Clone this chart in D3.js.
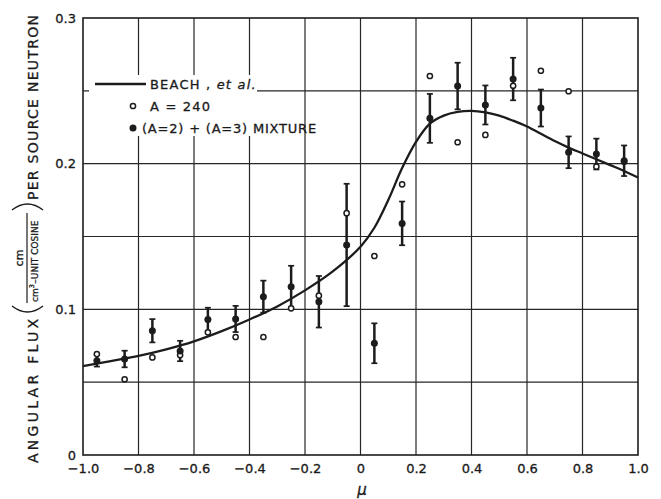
<!DOCTYPE html>
<html>
<head>
<meta charset="utf-8">
<script src="https://cdn.jsdelivr.net/npm/d3@7"></script>
<style>
  html, body { margin: 0; padding: 0; background: #fff; }
  svg { display: block; }
  text { font-family: "DejaVu Sans", sans-serif; fill: #1a1a1a; stroke: #1a1a1a; stroke-width: 0.3; }
</style>
</head>
<body>
<svg id="chart" width="661" height="499"></svg>
<script>
// ---- data ----
const mu = [-0.95, -0.85, -0.75, -0.65, -0.55, -0.45, -0.35, -0.25, -0.15, -0.05,
            0.05, 0.15, 0.25, 0.35, 0.45, 0.55, 0.65, 0.75, 0.85, 0.95];
const mixture = [0.0647, 0.0659, 0.0853, 0.0714, 0.0931, 0.0934, 0.1087, 0.1155, 0.1052, 0.1442,
                 0.0767, 0.1590, 0.2311, 0.2533, 0.2403, 0.2581, 0.2382, 0.2078, 0.2066, 0.2020];
const mixtureErr = [0.0040, 0.0057, 0.0080, 0.0070, 0.0080, 0.0090, 0.0110, 0.0144, 0.0177, 0.0420,
                    0.0137, 0.0150, 0.0168, 0.0160, 0.0134, 0.0146, 0.0127, 0.0109, 0.0106, 0.0105];
const a240 = [0.0693, 0.0520, 0.0670, 0.0686, 0.0842, 0.0810, 0.0810, 0.1007, 0.1094, 0.1660,
              0.1366, 0.1858, 0.2602, 0.2147, 0.2197, 0.2535, 0.2638, 0.2497, 0.1980, 0.2014];
const beachMu = [-1.0, -0.9, -0.8, -0.7, -0.6, -0.5, -0.4, -0.3, -0.2, -0.1, 0.0, 0.05, 0.1, 0.15,
                 0.2, 0.25, 0.3, 0.35, 0.4, 0.45, 0.5, 0.55, 0.6, 0.65, 0.7, 0.75, 0.8, 0.85, 0.9, 0.95, 1.0];
const beachFlux = [0.0610, 0.0645, 0.0680, 0.0725, 0.0780, 0.0850, 0.0930, 0.1020, 0.1130, 0.1260,
                   0.1430, 0.1560, 0.1750, 0.1970, 0.2150, 0.2275, 0.2330, 0.2355, 0.2362, 0.2352,
                   0.2330, 0.2295, 0.2255, 0.2205, 0.2155, 0.2110, 0.2070, 0.2030, 0.1990, 0.1950, 0.1905];
const xTicks = [-1.0, -0.8, -0.6, -0.4, -0.2, 0, 0.2, 0.4, 0.6, 0.8, 1.0];
const xTickLabels = ["\u22121.0", "\u22120.8", "\u22120.6", "\u22120.4", "\u22120.2", "0", "0.2", "0.4", "0.6", "0.8", "1.0"];
const yGrid = [0.05, 0.1, 0.15, 0.2, 0.25];
const yTicks = [0, 0.1, 0.2, 0.3];
const yTickLabels = ["0", "0.1", "0.2", "0.3"];
const legendLabels = ["BEACH", "A = 240", "(A=2) + (A=3) MIXTURE"];

// ---- layout ----
const L = 83, R = 638, T = 18, B = 455;
const x = d3.scaleLinear().domain([-1, 1]).range([L, R]);
const y = d3.scaleLinear().domain([0, 0.3]).range([B, T]);
const ink = "#1c1c1c";
const svg = d3.select("#chart");
svg.append("rect").attr("width", 661).attr("height", 499).attr("fill", "#fff");

// grid
const grid = svg.append("g").attr("stroke", "#262626").attr("stroke-width", 1.2);
grid.selectAll("line.v").data(xTicks.slice(1, -1)).join("line")
  .attr("x1", d => x(d)).attr("x2", d => x(d)).attr("y1", T).attr("y2", B);
grid.selectAll("line.h").data(yGrid).join("line")
  .attr("x1", L).attr("x2", R).attr("y1", d => y(d)).attr("y2", d => y(d));

// axes via d3 (labels only)
const xAxis = d3.axisBottom(x).tickValues(xTicks).tickSize(0).tickPadding(9)
  .tickFormat((d, i) => xTickLabels[i]);
const gx = svg.append("g").attr("transform", `translate(0,${B})`).call(xAxis);
gx.select(".domain").remove();
gx.selectAll("text").attr("font-size", 13).attr("font-family", "DejaVu Sans").attr("fill", ink);

const yAxis = d3.axisLeft(y).tickValues(yTicks).tickSize(0).tickPadding(7)
  .tickFormat((d, i) => yTickLabels[i]);
const gy = svg.append("g").attr("transform", `translate(${L},0)`).call(yAxis);
gy.select(".domain").remove();
gy.selectAll("text").attr("font-size", 13).attr("font-family", "DejaVu Sans").attr("fill", ink);

// frame
svg.append("rect").attr("x", L).attr("y", T).attr("width", R - L).attr("height", B - T)
  .attr("fill", "none").attr("stroke", ink).attr("stroke-width", 1.6);

// legend background (covers gridlines)
svg.append("rect").attr("x", 89).attr("y", 75).attr("width", 168).attr("height", 61).attr("fill", "#fff");

// Beach curve
const line = d3.line().x((d, i) => x(beachMu[i])).y(d => y(d)).curve(d3.curveCatmullRom.alpha(0.5));
svg.append("path").datum(beachFlux).attr("d", line)
  .attr("fill", "none").attr("stroke", ink).attr("stroke-width", 2.3);

// error bars
const eb = svg.append("g").attr("stroke", ink);
eb.selectAll("line.bar").data(mixture).join("line")
  .attr("x1", (d, i) => x(mu[i])).attr("x2", (d, i) => x(mu[i]))
  .attr("y1", (d, i) => y(d + mixtureErr[i])).attr("y2", (d, i) => y(d - mixtureErr[i]))
  .attr("stroke-width", 2.5);
eb.selectAll("line.capt").data(mixture).join("line")
  .attr("x1", (d, i) => x(mu[i]) - 3).attr("x2", (d, i) => x(mu[i]) + 3)
  .attr("y1", (d, i) => y(d + mixtureErr[i])).attr("y2", (d, i) => y(d + mixtureErr[i]))
  .attr("stroke-width", 1.7);
eb.selectAll("line.capb").data(mixture).join("line")
  .attr("x1", (d, i) => x(mu[i]) - 3).attr("x2", (d, i) => x(mu[i]) + 3)
  .attr("y1", (d, i) => y(d - mixtureErr[i])).attr("y2", (d, i) => y(d - mixtureErr[i]))
  .attr("stroke-width", 1.7);

// open circles (A=240)
svg.append("g").selectAll("circle").data(a240).join("circle")
  .attr("cx", (d, i) => x(mu[i])).attr("cy", d => y(d)).attr("r", 2.6)
  .attr("fill", "#fff").attr("stroke", ink).attr("stroke-width", 1.5);

// filled circles (mixture)
svg.append("g").selectAll("circle").data(mixture).join("circle")
  .attr("cx", (d, i) => x(mu[i])).attr("cy", d => y(d)).attr("r", 3.5)
  .attr("fill", ink);

// legend
const lg = svg.append("g");
lg.append("line").attr("x1", 95).attr("x2", 146).attr("y1", 84).attr("y2", 84)
  .attr("stroke", ink).attr("stroke-width", 2.3);
const t0 = lg.append("text").attr("x", 150).attr("y", 89).attr("font-size", 13).attr("letter-spacing", 1.2);
t0.append("tspan").text(legendLabels[0] + " , ");
t0.append("tspan").attr("font-style", "italic").text("et al.");
lg.append("circle").attr("cx", 133).attr("cy", 106).attr("r", 2.6)
  .attr("fill", "#fff").attr("stroke", ink).attr("stroke-width", 1.5);
lg.append("text").attr("x", 150).attr("y", 111).attr("font-size", 13).attr("letter-spacing", 1.2).text(legendLabels[1]);
lg.append("circle").attr("cx", 133).attr("cy", 128).attr("r", 3.5).attr("fill", ink);
lg.append("text").attr("x", 142).attr("y", 133).attr("font-size", 13).attr("letter-spacing", 0.8).text(legendLabels[2]);

// x axis title
svg.append("text").attr("x", 362).attr("y", 495).attr("text-anchor", "middle")
  .attr("font-size", 15).attr("font-style", "italic").text("\u03bc");

// y axis title (rotated)
const yl = svg.append("g").attr("transform", "translate(0,463) rotate(-90)");
yl.append("text").attr("x", 0).attr("y", 38).attr("font-size", 14)
  .attr("textLength", 144).attr("lengthAdjust", "spacing").text("ANGULAR FLUX");
// big parentheses
yl.append("path").attr("d", "M157,12 Q145,27.5 157,43").attr("fill", "none")
  .attr("stroke", ink).attr("stroke-width", 1.4);
yl.append("path").attr("d", "M253,12 Q265,27.5 253,43").attr("fill", "none")
  .attr("stroke", ink).attr("stroke-width", 1.4);
// fraction
yl.append("text").attr("x", 205).attr("y", 23).attr("text-anchor", "middle").attr("font-size", 11).text("cm");
yl.append("line").attr("x1", 160).attr("x2", 250).attr("y1", 27).attr("y2", 27)
  .attr("stroke", ink).attr("stroke-width", 1.2);
const den = yl.append("text").attr("x", 161).attr("y", 38).attr("font-size", 9);
den.append("tspan").text("cm");
den.append("tspan").attr("dy", -4).attr("font-size", 6.5).text("3");
den.append("tspan").attr("dy", 4).attr("dx", 0.5).text("\u2013UNIT COSINE");
yl.append("text").attr("x", 263).attr("y", 38).attr("font-size", 14)
  .attr("textLength", 185).attr("lengthAdjust", "spacing").text("PER SOURCE NEUTRON");
</script>
</body>
</html>
